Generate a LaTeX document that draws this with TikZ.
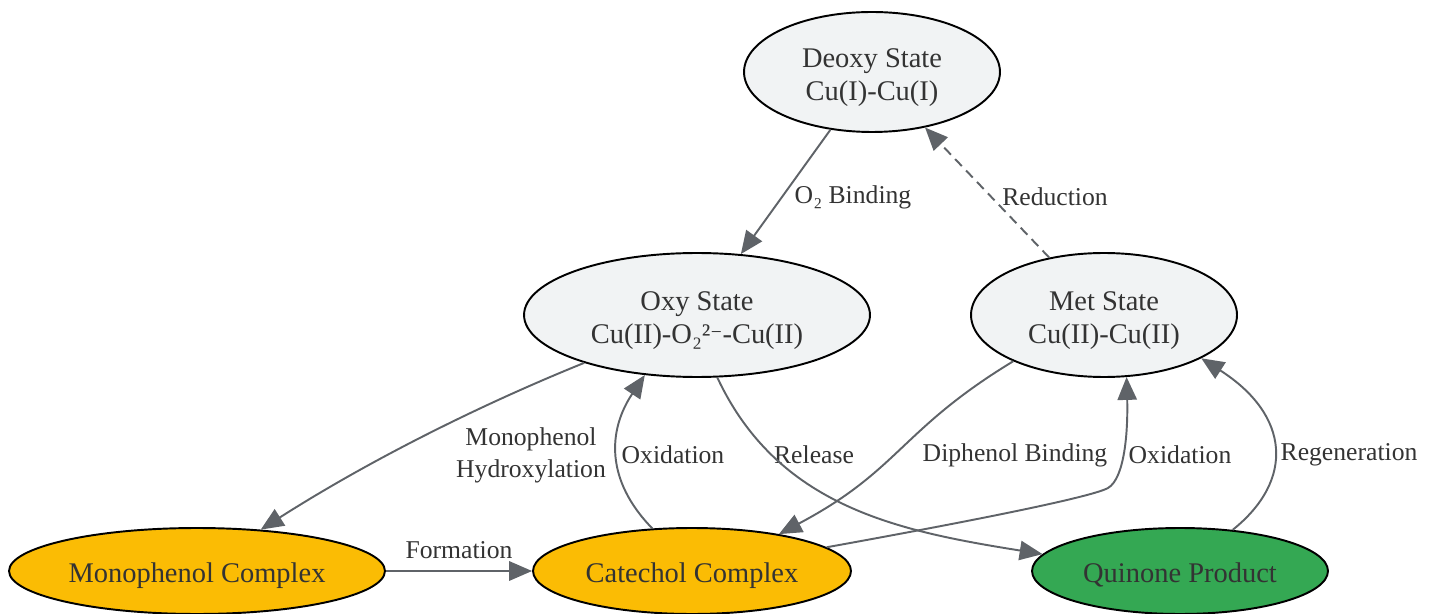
\documentclass[tikz,border=0pt]{standalone}
\usepackage{fontspec}
\setmainfont{Liberation Serif}
\newfontfamily\supfont{DejaVu Serif}
\usetikzlibrary{shapes.geometric,arrows.meta}
\definecolor{stategray}{HTML}{F1F3F4}
\definecolor{complexyellow}{HTML}{FBBC04}
\definecolor{productgreen}{HTML}{34A853}
\definecolor{edgegray}{HTML}{5F6368}
\definecolor{textgray}{HTML}{333333}

\begin{document}
\begin{tikzpicture}[x=0.02cm, y=-0.02cm,
  state/.style={ellipse, draw=black, line width=1.1pt, inner sep=0pt, text=textgray, align=center, text depth=0pt, font=\fontsize{16.2}{18.7}\selectfont},
  twoline/.style={state, text height=32.3pt},
  oneline/.style={state, text height=13.2pt},
  link/.style={draw=edgegray, line width=1.1pt, -{Triangle[length=13pt,width=11pt]}},
  lbl/.style={text=textgray, align=center, inner sep=0pt, font=\fontsize{14.6}{18.1}\selectfont}]
\useasboundingbox (0,0) rectangle (1435,614);

% Copper states
\node[twoline, fill=stategray, minimum width=5.12cm, minimum height=2.4cm] (deoxy) at (872,72) {Deoxy State\\Cu(I)-Cu(I)};
\node[twoline, fill=stategray, minimum width=6.92cm, minimum height=2.48cm] (oxy) at (697,315) {Oxy State\\Cu(II)-O₂²{\supfont\fontsize{13}{13}\selectfont ⁻}-Cu(II)};
\node[twoline, fill=stategray, minimum width=5.32cm, minimum height=2.48cm] (met) at (1104,315) {Met State\\Cu(II)-Cu(II)};

% Substrate complexes and product
\node[oneline, fill=complexyellow, minimum width=7.52cm, minimum height=1.72cm] (mono) at (197,571) {Monophenol Complex};
\node[oneline, fill=complexyellow, minimum width=6.36cm, minimum height=1.72cm] (catechol) at (692,571) {Catechol Complex};
\node[oneline, fill=productgreen, minimum width=5.92cm, minimum height=1.72cm] (quinone) at (1180,571) {Quinone Product};

% Edge labels
\node[lbl] (lbind) at (853,197) {O₂ Binding};
\node[lbl] (lred) at (1055,197) {Reduction};
\node[lbl] (lhydrox) at (531,455) {Monophenol\\Hydroxylation};
\node[lbl] (lform) at (459,550) {Formation};
\node[lbl] (loxa) at (673,455) {Oxidation};
\node[lbl] (lrel) at (814,455) {Release};
\node[lbl] (ldiph) at (1015,455) {Diphenol Binding};
\node[lbl] (loxb) at (1180,455) {Oxidation};
\node[lbl] (lregen) at (1349,455) {Regeneration};

% Cycle
\draw[link] (deoxy) -- (oxy);
\draw[link, dash pattern=on 5.5pt off 3.5pt] (met) -- (deoxy);
\draw[link] (oxy.203) .. controls (480,405) and (370,460) .. (mono.33);
\draw[link] (mono) -- (catechol);
\draw[link] (catechol.133) .. controls (605,480) and (608,430) .. (oxy.229);
\draw[link] (oxy.288) .. controls (778,507) and (898,531) .. (quinone.173);
\draw[link] (met.207) .. controls (900,430) and (900,470) .. (catechol.23);
\draw[link] (catechol.10) .. controls (950,525) and (1090,498) .. (1108,488)
  .. controls (1125,478) and (1128,430) .. (met.290);
\draw[link] (quinone.38) .. controls (1295,480) and (1290,415) .. (met.336);

\end{tikzpicture}
\end{document}
